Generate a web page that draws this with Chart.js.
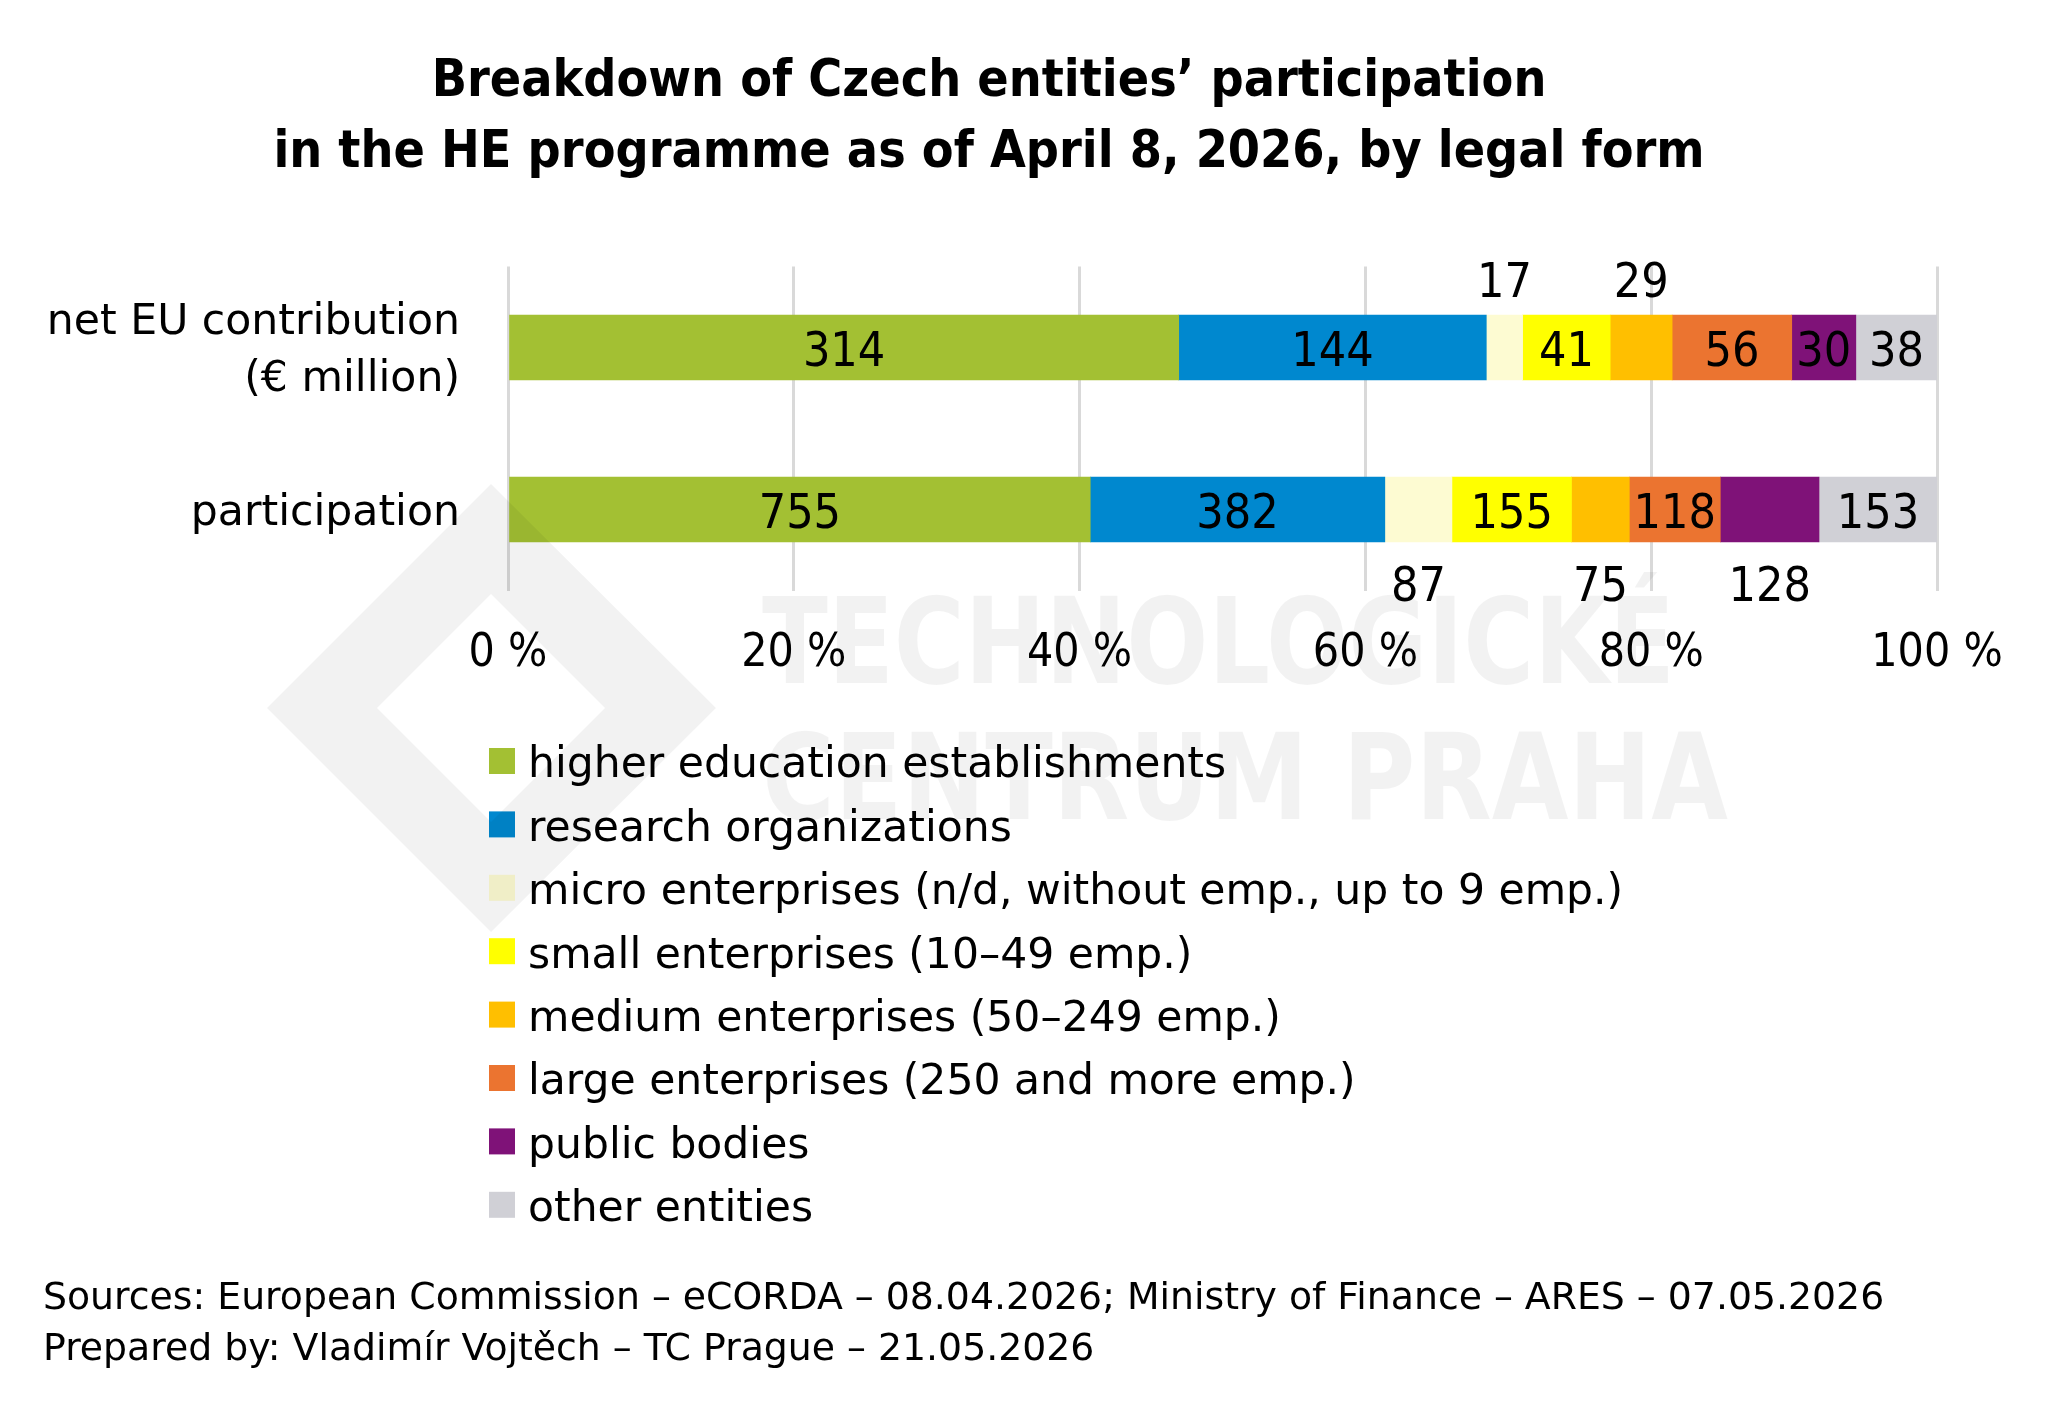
<!DOCTYPE html>
<html>
<head>
<meta charset="utf-8">
<script src="https://cdn.jsdelivr.net/npm/chart.js@4.4.1/dist/chart.umd.min.js"></script>
<style>
  html, body { margin: 0; padding: 0; background: #ffffff; }
  canvas { display: block; }
</style>
</head>
<body>
<canvas id="c" width="2060" height="1414"></canvas>
<script>
// ---------------- data ----------------
const titleLines = ['Breakdown of Czech entities’ participation', 'in the HE programme as of April 8, 2026, by legal form'];
const categories = [['net EU contribution', '(€ million)'], 'participation'];
const seriesNames = [
  'higher education establishments',
  'research organizations',
  'micro enterprises (n/d, without emp., up to 9 emp.)',
  'small enterprises (10–49 emp.)',
  'medium enterprises (50–249 emp.)',
  'large enterprises (250 and more emp.)',
  'public bodies',
  'other entities'
];
const netContribution = [314, 144, 17, 41, 29, 56, 30, 38];
const participation = [755, 382, 87, 155, 75, 118, 128, 153];
const xTickValues = [0, 20, 40, 60, 80, 100];
const xTickSuffix = ' %';
const footerLines = [
  'Sources: European Commission – eCORDA – 08.04.2026; Ministry of Finance – ARES – 07.05.2026',
  'Prepared by: Vladimír Vojtěch – TC Prague – 21.05.2026'
];
const watermarkLines = ['TECHNOLOGICKÉ', 'CENTRUM PRAHA'];

// ---------------- styling ----------------
const seriesColors = ['#a3c033', '#0088cf', '#fdfbd2', '#ffff00', '#ffbf00', '#eb7430', '#7f1278', '#d0d0d6'];
// which series' value labels sit outside the bar, per category row
const outsideLabels = [[2, 4], [2, 4, 6]];
const FONT_C = "'DejaVu Sans Condensed', 'DejaVu Sans', sans-serif";
const FONT_R = "'DejaVu Sans', sans-serif";

const rows = [netContribution, participation];
const totals = rows.map(r => r.reduce((a, b) => a + b, 0));

const datasets = seriesNames.map((name, i) => ({
  label: name,
  raw: rows.map(r => r[i]),
  data: rows.map((r, j) => r[i] / totals[j] * 100),
  backgroundColor: seriesColors[i],
  borderWidth: 0,
  barThickness: 65
}));

function capBaseline(center, size) { return center + 0.3645 * size + 1; }

const decor = {
  id: 'decor',
  afterDatasetsDraw(chart) {
    const ctx = chart.ctx;
    ctx.save();
    const size = 48;
    ctx.font = size + 'px ' + FONT_C;
    ctx.fillStyle = '#000';
    ctx.textAlign = 'center';
    ctx.textBaseline = 'alphabetic';
    chart.data.datasets.forEach((ds, i) => {
      const meta = chart.getDatasetMeta(i);
      meta.data.forEach((bar, j) => {
        const xc = (bar.x + bar.base) / 2;
        let yc = bar.y;
        if (outsideLabels[j].includes(i)) {
          yc = j === 0 ? bar.y - bar.height / 2 - 36 : bar.y + bar.height / 2 + 41;
        }
        ctx.fillText(String(ds.raw[j]), xc, capBaseline(yc, size));
      });
    });
    ctx.restore();
  },
  afterDraw(chart) {
    const ctx = chart.ctx;
    ctx.save();
    ctx.textBaseline = 'alphabetic';
    // title
    ctx.fillStyle = '#000';
    ctx.textAlign = 'center';
    ctx.font = 'bold 51.5px ' + FONT_C;
    ctx.fillText(titleLines[0], 989, capBaseline(76, 51.5));
    ctx.fillText(titleLines[1], 989, capBaseline(147, 51.5));

    // legend
    ctx.textAlign = 'left';
    ctx.font = '42.5px ' + FONT_R;
    seriesNames.forEach((name, i) => {
      const yc = 761 + i * 63.4;
      ctx.fillStyle = seriesColors[i];
      ctx.fillRect(489, yc - 13, 26, 26);
      ctx.fillStyle = '#000';
      ctx.fillText(name, 528, capBaseline(yc, 42.5));
    });

    // footer
    ctx.font = '37.8px ' + FONT_R;
    ctx.fillText(footerLines[0], 43, capBaseline(1294, 37.8));
    ctx.fillText(footerLines[1], 43, capBaseline(1345, 37.8));

    // watermark (translucent overlay)
    ctx.fillStyle = 'rgba(0,0,0,0.05)';
    ctx.beginPath();
    ctx.moveTo(491, 484); ctx.lineTo(716, 708); ctx.lineTo(491, 932); ctx.lineTo(267, 708); ctx.closePath();
    ctx.moveTo(491, 594); ctx.lineTo(377, 708); ctx.lineTo(491, 822); ctx.lineTo(605, 708); ctx.closePath();
    ctx.fill('evenodd');
    ctx.font = 'bold 120px ' + FONT_C;
    const targets = [[762, 1675, 683], [762, 1728, 819]];
    watermarkLines.forEach((t, k) => {
      const w = ctx.measureText(t).width;
      const [x0, x1, yb] = targets[k];
      ctx.save();
      ctx.translate(x0, yb);
      ctx.scale((x1 - x0) / w, 1);
      ctx.fillText(t, 0, 0);
      ctx.restore();
    });
    ctx.restore();
  }
};

new Chart(document.getElementById('c'), {
  type: 'bar',
  data: { labels: categories, datasets },
  options: {
    indexAxis: 'y',
    responsive: false,
    animation: false,
    devicePixelRatio: 1,
    layout: { padding: { top: 266.5, right: 123, bottom: 723.5, left: 0 } },
    plugins: { legend: { display: false }, title: { display: false }, tooltip: { enabled: false } },
    scales: {
      x: {
        stacked: true, min: 0, max: 100,
        afterBuildTicks: s => { s.ticks = xTickValues.map(v => ({ value: v })); },
        ticks: { callback: v => v + xTickSuffix, color: '#000', font: { family: FONT_C, size: 46 }, padding: 36, maxRotation: 0 },
        grid: { color: '#d9d9d9', lineWidth: 3, drawTicks: false },
        border: { display: false },
        afterFit: s => { s.height = 100; }
      },
      y: {
        stacked: true,
        ticks: { color: '#000', font: { family: FONT_R, size: 42.6, lineHeight: 1.32 }, padding: 48, labelOffset: 4 },
        grid: { display: false, drawTicks: false },
        border: { display: false },
        afterFit: s => { s.width = 508; }
      }
    }
  },
  plugins: [decor]
});
</script>
</body>
</html>
